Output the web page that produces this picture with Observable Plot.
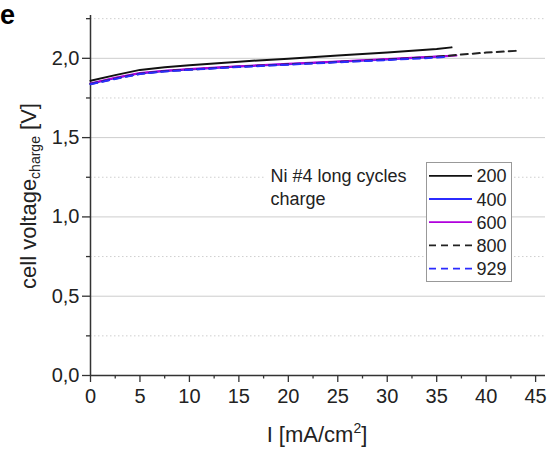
<!DOCTYPE html>
<html><head><meta charset="utf-8">
<script src="https://cdn.jsdelivr.net/npm/d3@7"></script>
<script src="https://cdn.jsdelivr.net/npm/@observablehq/plot@0.6"></script>
<style>
body{margin:0;background:#fff}
#chart{position:relative;width:547px;height:452px}
svg{font-family:"Liberation Sans",Arial,sans-serif}
</style>
</head><body><div id="chart"></div><script>
// ---- data ----
const cycles = ["200", "400", "600", "800", "929"];
const I_200 = [0, 2.5, 5, 7.5, 10, 15, 20, 25, 30, 35, 36.5];
const V_200 = [1.858, 1.894, 1.927, 1.944, 1.957, 1.979, 1.998, 2.017, 2.037, 2.059, 2.069];
const I_400 = [0, 2.5, 5, 7.5, 10, 15, 20, 25, 30, 35, 36.3];
const V_400 = [1.840, 1.875, 1.905, 1.920, 1.930, 1.948, 1.963, 1.978, 1.993, 2.010, 2.015];
const I_600 = [0, 2.5, 5, 7.5, 10, 15, 20, 25, 30, 35, 37.0];
const V_600 = [1.842, 1.877, 1.907, 1.922, 1.932, 1.950, 1.965, 1.980, 1.995, 2.012, 2.018];
const I_800 = [0, 2.5, 5, 7.5, 10, 15, 20, 25, 30, 35, 37.5, 40, 43];
const V_800 = [1.838, 1.872, 1.903, 1.919, 1.929, 1.947, 1.962, 1.977, 1.992, 2.010, 2.024, 2.036, 2.047];
const I_929 = [0, 2.5, 5, 7.5, 10, 15, 20, 25, 30, 35, 36.0];
const V_929 = [1.836, 1.870, 1.901, 1.917, 1.928, 1.945, 1.960, 1.975, 1.989, 2.005, 2.010];
const xTicks = [0, 5, 10, 15, 20, 25, 30, 35, 40, 45];
const xMinor = [2.5, 7.5, 12.5, 17.5, 22.5, 27.5, 32.5, 37.5, 42.5];
const yTicks = [0, 0.5, 1.0, 1.5, 2.0];
const yMinor = [0.25, 0.75, 1.25, 1.75, 2.25];
const legendTitle = ["Ni #4 long cycles", "charge"];

const seriesI = {"200": I_200, "400": I_400, "600": I_600, "800": I_800, "929": I_929};
const seriesV = {"200": V_200, "400": V_400, "600": V_600, "800": V_800, "929": V_929};
const styles = {
  "200": {stroke: "#111", dash: null},
  "400": {stroke: "#2b2bff", dash: null},
  "600": {stroke: "#b000dc", dash: null},
  "800": {stroke: "#222", dash: "7,5"},
  "929": {stroke: "#2b2bff", dash: "7,5"}
};
const table = cycles.map(c => seriesI[c].map((x, i) => ({cycle: c, I: x, V: seriesV[c][i]})));
const fmt = d => d.toFixed(1).replace(".", ",");

const lineMarks = cycles.map((c, k) => Plot.line(table[k], {
  x: "I", y: "V", stroke: styles[c].stroke, strokeWidth: 2,
  strokeDasharray: styles[c].dash
}));

const plot = Plot.plot({
  width: 547, height: 452,
  marginLeft: 90, marginRight: 2, marginTop: 15, marginBottom: 77,
  style: {fontFamily: "Liberation Sans, Arial, sans-serif", fontSize: "20px", color: "#222", background: "#fff"},
  x: {domain: [0, 46], label: null},
  y: {domain: [0, 2.27], label: null},
  marks: [
    Plot.ruleY(yMinor, {stroke: "#cfcfcf", strokeDasharray: "1.5,2.5", strokeWidth: 1}),
    Plot.ruleY(yTicks.filter(d => d > 0), {stroke: "#cdcdcd", strokeWidth: 1}),
    Plot.axisX({ticks: xTicks, tickSize: 7, tickPadding: 6, tickFormat: d => String(d), fontSize: 20, stroke: "#333", strokeWidth: 1.3}),
    Plot.axisX({ticks: xMinor, tickSize: 3.5, tickFormat: () => "", stroke: "#333", strokeWidth: 1.3}),
    Plot.axisY({ticks: yTicks, tickSize: 8, tickPadding: 3, tickFormat: fmt, fontSize: 20, stroke: "#333", strokeWidth: 1.3}),
    Plot.axisY({ticks: yMinor, tickSize: 4, tickFormat: () => "", stroke: "#333", strokeWidth: 1.3}),
    Plot.ruleX([0], {stroke: "#333", strokeWidth: 1.5}),
    Plot.ruleY([0], {stroke: "#333", strokeWidth: 1.5}),
    ...lineMarks
  ]
});
document.getElementById("chart").appendChild(plot);

const svg = d3.select(plot);
// panel letter
svg.append("text").attr("x", 0).attr("y", 24).attr("text-anchor", "start").attr("font-size", 27).attr("font-weight", "bold").attr("fill", "#000").text("e");

// y title
const yt = svg.append("text").attr("transform", "translate(36,196) rotate(-90)")
  .attr("text-anchor", "middle").attr("font-size", 22).attr("fill", "#222");
yt.append("tspan").text("cell voltage");
yt.append("tspan").attr("font-size", 14).attr("dy", 4).text("charge");
yt.append("tspan").attr("dy", -4).text(" [V]");

// x title
const xt = svg.append("text").attr("x", 317).attr("y", 442)
  .attr("text-anchor", "middle").attr("font-size", 22).attr("fill", "#222");
xt.append("tspan").text("I [mA/cm");
xt.append("tspan").attr("font-size", 14).attr("dy", -9).text("2");
xt.append("tspan").attr("dy", 9).text("]");

// legend
const lg = svg.append("g").attr("text-anchor", "start");
lg.append("rect").attr("x", 266).attr("y", 164).attr("width", 158).attr("height", 46).attr("fill", "#fff");
legendTitle.forEach((t, i) => lg.append("text").attr("x", 270.5).attr("y", 182 + i * 23.2)
  .attr("text-anchor", "start").attr("font-size", 18).attr("fill", "#222").text(t));
lg.append("rect").attr("x", 426.5).attr("y", 162.5).attr("width", 85).attr("height", 119)
  .attr("fill", "#fff").attr("stroke", "#999").attr("stroke-width", 1);
cycles.forEach((c, i) => {
  const yy = 175.8 + i * 23.2;
  lg.append("line").attr("x1", 429).attr("x2", 472).attr("y1", yy).attr("y2", yy)
    .attr("stroke", styles[c].stroke).attr("stroke-width", 1.8)
    .attr("stroke-dasharray", styles[c].dash);
  lg.append("text").attr("x", 476.5).attr("y", yy + 6.5).attr("text-anchor", "start")
    .attr("font-size", 18).attr("fill", "#222").text(c);
});
</script></body></html>
